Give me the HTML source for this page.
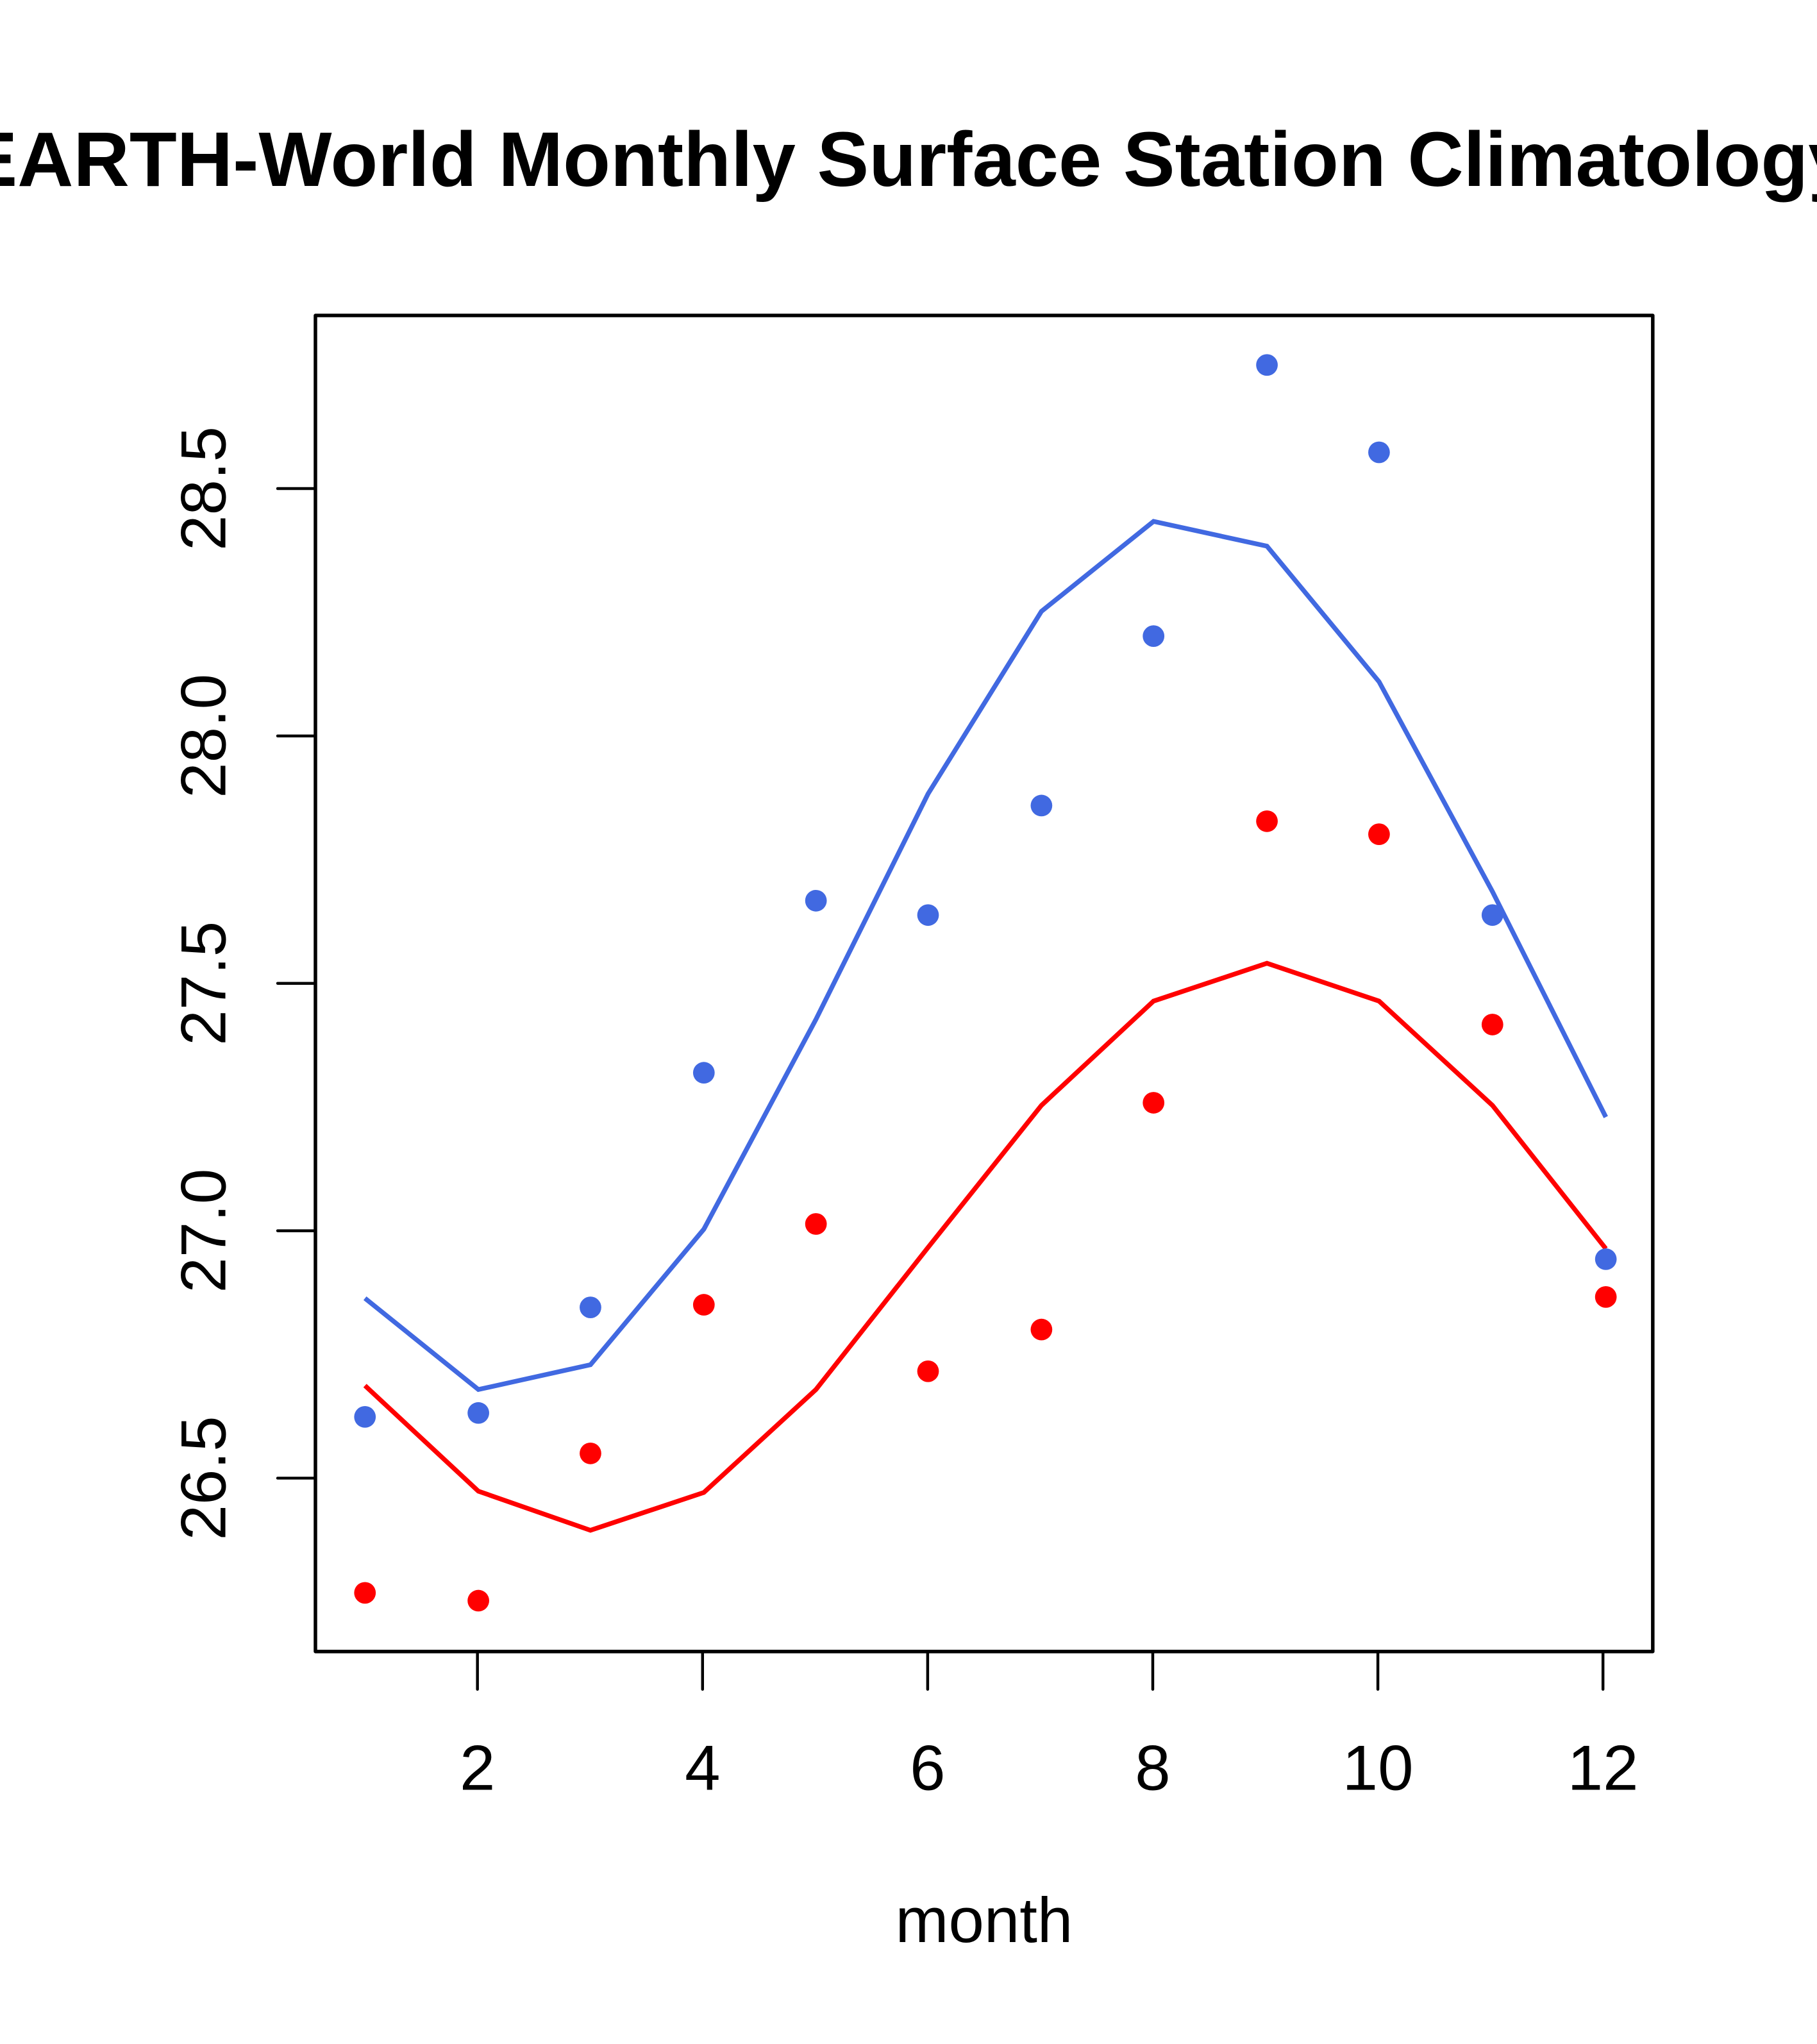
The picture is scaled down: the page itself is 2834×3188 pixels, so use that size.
<!DOCTYPE html>
<html><head><meta charset="utf-8"><style>html,body{margin:0;padding:0;background:#fff;overflow:hidden}svg{display:block}</style></head>
<body>
<svg width="2834" height="3188" viewBox="0 0 1394 1568.1" xmlns="http://www.w3.org/2000/svg" font-family="Liberation Sans, Arial, sans-serif">
<rect width="1394" height="1568.1" fill="#fff"/>
<text x="697" y="142.6" font-size="59.5" font-weight="bold" text-anchor="middle">EARTH-World Monthly Surface Station Climatology</text>
<rect x="242" y="242" width="1026" height="1025" fill="none" stroke="#000" stroke-width="2.7" stroke-linejoin="round"/>
<g stroke="#000" stroke-width="2.2" stroke-linecap="round">
<line x1="366.3" y1="1267" x2="366.3" y2="1296"/>
<line x1="539" y1="1267" x2="539" y2="1296"/>
<line x1="711.7" y1="1267" x2="711.7" y2="1296"/>
<line x1="884.4" y1="1267" x2="884.4" y2="1296"/>
<line x1="1057.1" y1="1267" x2="1057.1" y2="1296"/>
<line x1="1229.8" y1="1267" x2="1229.8" y2="1296"/>
<line x1="242" y1="374.8" x2="213" y2="374.8"/>
<line x1="242" y1="564.6" x2="213" y2="564.6"/>
<line x1="242" y1="754.4" x2="213" y2="754.4"/>
<line x1="242" y1="944.2" x2="213" y2="944.2"/>
<line x1="242" y1="1134" x2="213" y2="1134"/>
</g>
<g font-size="49" text-anchor="middle">
<text x="366.3" y="1373">2</text>
<text x="539" y="1373">4</text>
<text x="711.7" y="1373">6</text>
<text x="884.4" y="1373">8</text>
<text x="1057.1" y="1373">10</text>
<text x="1229.8" y="1373">12</text>
<text transform="translate(173,374.8) rotate(-90)">28.5</text>
<text transform="translate(173,564.6) rotate(-90)">28.0</text>
<text transform="translate(173,754.4) rotate(-90)">27.5</text>
<text transform="translate(173,944.2) rotate(-90)">27.0</text>
<text transform="translate(173,1134) rotate(-90)">26.5</text>
<text x="755" y="1490">month</text>
</g>
<polyline fill="none" stroke="#4169E1" stroke-width="3.6" points="280,996 367,1066 453,1047 540,943 626,782 712,609 799,469 885,400 972,419 1058,523 1145,684 1232,857"/>
<polyline fill="none" stroke="#FF0000" stroke-width="3.6" points="280,1063 367,1144 453,1174 540,1145 626,1066 712,957 799,848 885,768 972,739 1058,768 1145,848 1232,958"/>
<g fill="#4169E1">
<circle cx="280" cy="1087" r="8.3"/><circle cx="367" cy="1084" r="8.3"/><circle cx="453" cy="1003" r="8.3"/><circle cx="540" cy="823" r="8.3"/><circle cx="626" cy="691" r="8.3"/><circle cx="712" cy="702" r="8.3"/><circle cx="799" cy="618" r="8.3"/><circle cx="885" cy="488" r="8.3"/><circle cx="972" cy="280" r="8.3"/><circle cx="1058" cy="347" r="8.3"/><circle cx="1145" cy="702" r="8.3"/><circle cx="1232" cy="966" r="8.3"/>
</g>
<g fill="#FF0000">
<circle cx="280" cy="1222" r="8.3"/><circle cx="367" cy="1228" r="8.3"/><circle cx="453" cy="1115" r="8.3"/><circle cx="540" cy="1001" r="8.3"/><circle cx="626" cy="939" r="8.3"/><circle cx="712" cy="1052" r="8.3"/><circle cx="799" cy="1020" r="8.3"/><circle cx="885" cy="846" r="8.3"/><circle cx="972" cy="630" r="8.3"/><circle cx="1058" cy="640" r="8.3"/><circle cx="1145" cy="786" r="8.3"/><circle cx="1232" cy="995" r="8.3"/>
</g>
</svg>
</body></html>
